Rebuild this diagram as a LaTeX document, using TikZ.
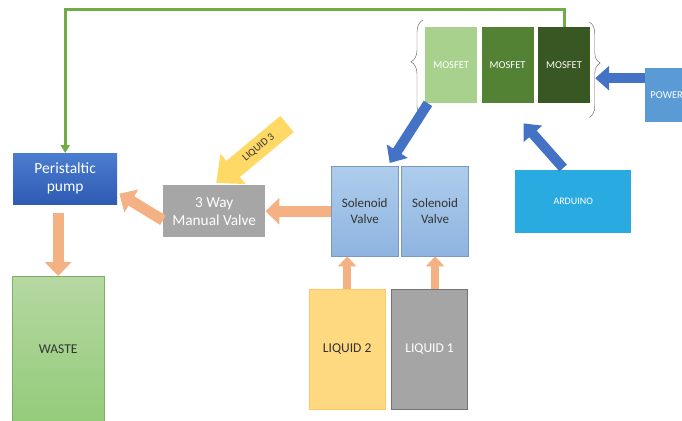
\documentclass[tikz,border=0pt]{standalone}
\usepackage{fontspec}
\setmainfont{Carlito}
\usetikzlibrary{positioning,arrows.meta,decorations.pathreplacing}
\definecolor{peach}{HTML}{F4B183}
\definecolor{arrowblue}{HTML}{4472C4}
\definecolor{wiregreen}{HTML}{70AD47}
\definecolor{mosA}{HTML}{A9D18E}
\definecolor{mosB}{HTML}{548235}
\definecolor{mosC}{HTML}{385723}
\definecolor{pumptop}{HTML}{4A7DD0}
\definecolor{pumpbot}{HTML}{2F5BB3}
\definecolor{soltop}{HTML}{AECDEC}
\definecolor{solbot}{HTML}{8EB4E0}
\definecolor{valvegray}{HTML}{A6A6A6}
\definecolor{liqyellow}{HTML}{FFD980}
\definecolor{liqgray}{HTML}{A5A5A5}
\definecolor{wastetop}{HTML}{B5D8A1}
\definecolor{wastebot}{HTML}{94CB7A}
\definecolor{arduinoblue}{HTML}{29ABE2}
\definecolor{powerblue}{HTML}{5B9BD5}
\definecolor{liqgold}{HTML}{FFD966}
\definecolor{darktext}{HTML}{333333}

\begin{document}
\begin{tikzpicture}[x=1pt,y=-1pt,
  box/.style={anchor=north west, inner sep=0pt, align=center},
  mos/.style={box, minimum width=52pt, minimum height=76pt, text=white, font=\fontsize{10.5}{12}\selectfont},
  sol/.style={box, minimum width=67pt, minimum height=90pt, top color=soltop, bottom color=solbot, draw=solbot!85!black, text=darktext, font=\fontsize{13}{16}\selectfont},
  liq/.style={box, minimum width=76pt, minimum height=120pt, font=\fontsize{13.5}{16}\selectfont},
  peacharrow/.style={draw=peach, line width=11pt, -{Triangle[length=14pt,width=26pt]}},
  smallpeach/.style={draw=peach, line width=8pt, -{Triangle[length=10pt,width=18pt]}},
  bluearrow/.style={draw=arrowblue, line width=10pt, -{Triangle[length=14pt,width=24pt]}}]
\clip (0,0) rectangle (682,420);
\fill[white] (0,0) rectangle (682,420);
\node[box, minimum width=104pt, minimum height=51pt, top color=pumptop, bottom color=pumpbot, text=white, font=\fontsize{15.5}{18}\selectfont] (pump) at (13,153) {Peristaltic\\pump};
\node[box, minimum width=92pt, minimum height=146pt, top color=wastetop, bottom color=wastebot, draw=wastebot!85!black, text=darktext, font=\fontsize{13.5}{16}\selectfont] (waste) at (12,276) {WASTE};
\node[box, minimum width=102pt, minimum height=52pt, fill=valvegray, text=white, font=\fontsize{15.3}{18}\selectfont] (valve3) at (163,185) {3 Way\\Manual Valve};
\node[sol] (sol1) at (331,166) {Solenoid\\Valve};
\node[sol, right=3pt of sol1] (sol2) {Solenoid\\Valve};
\node[liq, fill=liqyellow, draw=liqyellow!80!orange, text=darktext] (liq2) at (309,289) {LIQUID 2};
\node[liq, fill=liqgray, draw=liqgray!70!black, text=white, right=6pt of liq2] (liq1) {LIQUID 1};
\node[mos, fill=mosA] (m1) at (425,27) {MOSFET};
\node[mos, fill=mosB, right=4pt of m1] (m2) {MOSFET};
\node[mos, fill=mosC, right=4pt of m2] (m3) {MOSFET};
\node[box, minimum width=43pt, minimum height=54pt, fill=powerblue, text=white, font=\fontsize{10.5}{12}\selectfont] (power) at (645,68) {POWER};
\node[box, minimum width=116pt, minimum height=63pt, fill=arduinoblue, text=white, font=\fontsize{10}{12}\selectfont] (ard) at (515,170) {ARDUINO};
\coordinate (liq3) at (287,124);
\draw[darktext!80, thin, decorate, decoration={brace, amplitude=12pt, aspect=0.57}] ([xshift=-2pt,yshift=-14pt]m1.south west) -- ([xshift=-2pt,yshift=7pt]m1.north west);
\draw[darktext!80, thin, decorate, decoration={brace, amplitude=11pt, aspect=0.43}] ([xshift=-1pt,yshift=5pt]m3.north east) -- ([xshift=-1pt,yshift=-14pt]m3.south east);
\draw[wiregreen, line width=3pt, -{Triangle[length=8pt,width=9pt]}] (m3.north) -- ++(0,-17) -| (pump.north);
\draw[peacharrow] (sol1.west) -- (valve3.east);
\draw[peacharrow] ([yshift=-9pt]valve3.west) -- ([xshift=2pt,yshift=-15pt]pump.east);
\draw[peacharrow] ([yshift=-9pt]waste.north |- pump.south) -- (waste.north);
\draw[smallpeach] (liq2.north) -- (liq2.north |- sol1.south);
\draw[smallpeach] (sol2.south |- liq1.north) -- (sol2.south);
\draw[bluearrow] ([xshift=3pt]m1.south west) -- ([xshift=25pt,yshift=3pt]sol1.north);
\draw[bluearrow] ([xshift=-10pt,yshift=2pt]ard.north) -- ([xshift=16pt,yshift=-20pt]m2.south);
\draw[bluearrow] ([yshift=17pt]power.west) -- ([xshift=5pt,yshift=-13pt]m3.east);
\draw[draw=liqgold, line width=21pt, -{Triangle[length=22pt,width=38pt]}] (liq3) -- ([xshift=2pt,yshift=2pt]valve3.north) node[pos=0.4, sloped, inner sep=1pt, text=darktext, font=\fontsize{10.5}{12}\selectfont] (liq3label) {LIQUID 3};
\end{tikzpicture}
\end{document}
